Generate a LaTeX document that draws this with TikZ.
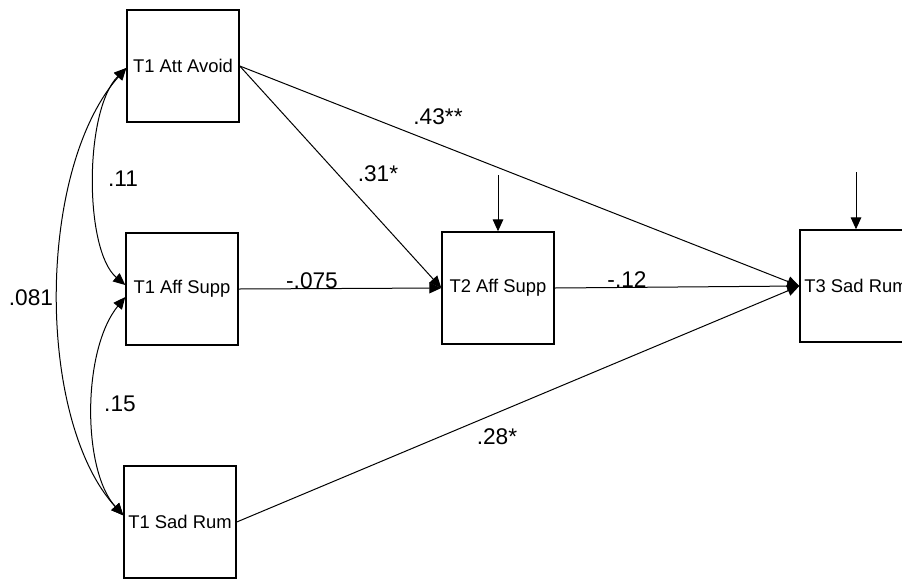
\documentclass[tikz,border=0pt]{standalone}
\usepackage{fontspec}
\setmainfont{Liberation Sans}
\usetikzlibrary{arrows.meta,positioning}

\begin{document}
\begin{tikzpicture}[x=0.75pt,y=-0.75pt,
	var/.style={draw,line width=1.1pt,minimum width=84pt,minimum height=84pt,inner sep=0pt,font=\fontsize{13.8}{16}\selectfont},
	coef/.style={inner sep=0pt,font=\fontsize{17}{20}\selectfont},
	reg/.style={line width=0.75pt,-{Triangle[length=9pt,width=8pt]}},
	corr/.style={line width=0.75pt,{Triangle[length=9pt,width=8pt]}-{Triangle[length=9pt,width=8pt]}}]
	\useasboundingbox (0,0) rectangle (902,579);
	\clip (0,0) rectangle (902,579);
	% variables
	\node[var] (attavoid) at (183,66) {T1 Att Avoid};
	\node[var] (affsupp1) at (182,289) {T1 Aff Supp};
	\node[var] (sadrum1) at (180,522) {T1 Sad Rum};
	\node[var] (affsupp2) at (498,288) {T2 Aff Supp};
	\node[var] (sadrum3) at (856,286) {T3 Sad Rum};
	\coordinate (e2) at (498,175);
	\coordinate (e3) at (856,172);
	% paths
	\draw[reg] (attavoid.east) -- (sadrum3.west);
	\draw[reg] (attavoid.east) -- (affsupp2.west);
	\draw[reg] (affsupp1.east) -- (affsupp2.west);
	\draw[reg] (affsupp2.east) -- (sadrum3.west);
	\draw[reg] (sadrum1.east) -- (sadrum3.west);
	\draw[reg] (e2) -- (affsupp2.north);
	\draw[reg] (e3) -- (sadrum3.north);
	% covariances
	\draw[corr] ([yshift=-1.5pt]attavoid.west) .. controls (84,110) and (84,250) .. ([yshift=3pt]affsupp1.west);
	\draw[corr] ([yshift=-6pt]affsupp1.west) .. controls (82,350) and (82,470) .. ([yshift=5pt]sadrum1.west);
	\draw[corr] ([yshift=-1.5pt]attavoid.west) .. controls (36,170) and (36,420) .. ([yshift=5pt]sadrum1.west);
	% coefficients
	\node[coef] (c1) at (438,117) {.43**};
	\node[coef] (c2) at (378,174) {.31*};
	\node[coef] (c3) at (123,179) {.11};
	\node[coef] (c4) at (31,298) {.081};
	\node[coef] (c5) at (312,281) {-.075};
	\node[coef] (c6) at (627,280) {-.12};
	\node[coef] (c7) at (120,404) {.15};
	\node[coef] (c8) at (497,437) {.28*};
\end{tikzpicture}
\end{document}
